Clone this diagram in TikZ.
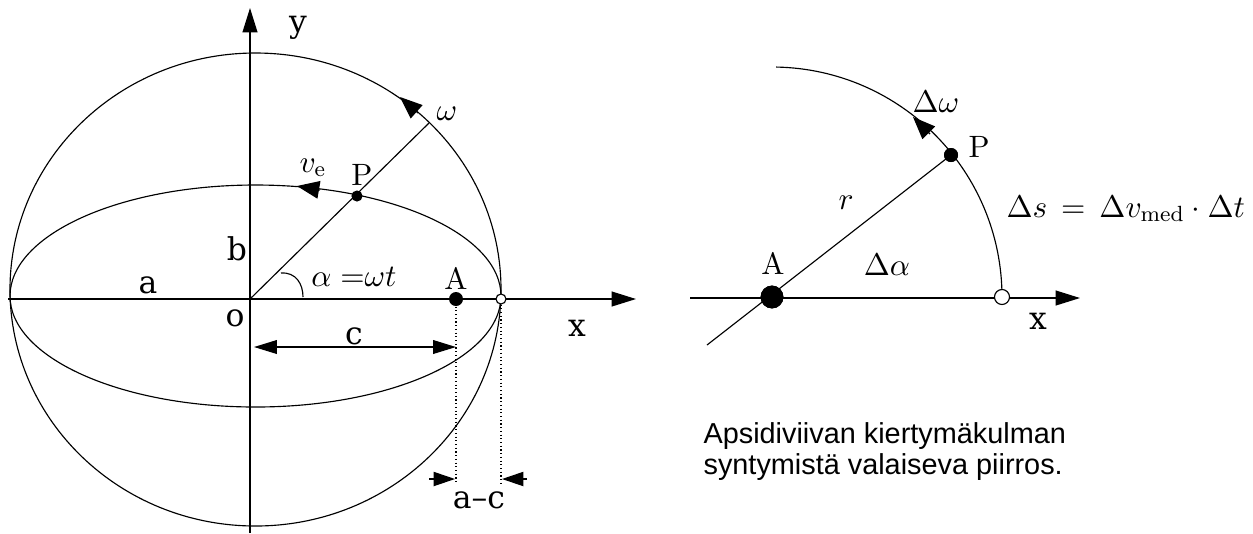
\documentclass[tikz,border=0pt]{standalone}
\usepackage{fontspec}
\newfontfamily\labfont{DejaVu Serif}
\newfontfamily\capfont{Liberation Sans}
\usetikzlibrary{arrows.meta}
\begin{document}
\begin{tikzpicture}[x=0.35pt,y=-0.35pt,
  thinline/.style={line width=0.4pt},
  axis/.style={line width=0.45pt,-{Triangle[length=8.5pt,width=5.2pt]}},
  headonly/.style={line width=0.4pt,-{Triangle[length=7.8pt,width=6.2pt]}},
  smallhead/.style={line width=0.4pt,-{Triangle[length=7.5pt,width=5pt]}},
  dimarrow/.style={line width=0.45pt,{Triangle[length=8pt,width=4.8pt]}-{Triangle[length=8pt,width=4.8pt]}},
  dotline/.style={line width=0.4pt,dash pattern=on 0.4pt off 0.9pt},
  lab/.style={font=\labfont\fontsize{11}{13}\selectfont,inner sep=0pt},
  mth/.style={font=\fontsize{11}{13}\selectfont,inner sep=0pt},
  capl/.style={font=\fontsize{10.8}{12}\selectfont,inner sep=0pt},
  captxt/.style={font=\capfont\fontsize{10.1}{9.8}\selectfont,inner sep=0pt,anchor=base west},
  dot/.style={circle,fill=black,inner sep=0pt},
  odot/.style={circle,draw=black,fill=white,line width=0.4pt,inner sep=0pt},
]
\useasboundingbox (0,0) rectangle (1253,533);
\fill[white] (0,0) rectangle (1253,533);

% ---------- left figure ----------
\coordinate (O) at (250,299);
\coordinate (yb) at (250,533);
\coordinate (yt) at (250,8);
\coordinate (xl) at (8,299);
\coordinate (xr) at (636,299);
\draw[axis] (yb) -- (yt);
\draw[axis] (xl) -- (xr);

\draw[thinline] (255.5,289.5) ellipse [x radius=85.925pt, y radius=82.775pt];
\draw[thinline] (255.5,296) ellipse [x radius=85.925pt, y radius=38.85pt];

\coordinate (W) at (429,123);
\draw[thinline] (O) -- (W);

\draw[thinline] (281,273) .. controls (296,272) and (303,284) .. (303,297);

\node[dot,minimum size=3.9pt] (P) at (357,196) {};
\node[dot,minimum size=4.9pt] (A) at (456,299) {};
\node[odot,minimum size=3.5pt] (Q) at (501,299) {};

% arrows on circle and orbit
\coordinate (wb) at (418,113);
\coordinate (wt) at (400,97);
\draw[headonly] (wb) -- (wt);
\coordinate (vb) at (320,190);
\coordinate (vt) at (297,186);
\draw[headonly] (vb) -- (vt);

% dimension c
\coordinate (c1) at (254,347);
\coordinate (c2) at (456,347);
\draw[dimarrow] (c1) -- (c2);

% dotted lines
\coordinate (Ad) at (456,483);
\coordinate (Qd) at (501,483);
\draw[dotline] (A.south) -- (Ad);
\draw[dotline] (Q.south) -- (Qd);
\coordinate (ac1) at (429,479);
\coordinate (ac2) at (455,479);
\coordinate (ac3) at (527,479);
\coordinate (ac4) at (502,479);
\draw[smallhead] (ac1) -- (ac2);
\draw[smallhead] (ac3) -- (ac4);

% labels
\node[lab] (ly) at (298,28) {y};
\node[mth] (lw) at (447,114) {$\omega$};
\node[mth] (lv) at (313,168) {$v_{\mathrm{e}}$};
\node[capl] (lP) at (362,175) {P};
\node[lab] (lb) at (237,249) {b};
\node[lab] (la) at (148,285) {a};
\node[mth] (lal) at (354,277) {$\alpha\;{=}\omega t$};
\node[capl] (lA) at (456,278) {A};
\node[lab] (lo) at (235,318) {o};
\node[lab] (lx) at (577,328) {x};
\node[lab] (lc) at (354,336) {c};
\node[lab] (lac) at (479,500) {a\textendash c};

% ---------- right figure ----------
\coordinate (xl2) at (690,298);
\coordinate (xr2) at (1080,298);
\draw[axis] (xl2) -- (xr2);

\coordinate (R0) at (707,345);
\node[dot,minimum size=8pt] (A2) at (772,297) {};
\node[dot,minimum size=4.9pt] (P2) at (951,155) {};
\draw[thinline] (R0) -- (P2.center);
\node[dot,minimum size=8pt] at (A2) {};

\draw[thinline] (1002,297) arc [start angle=0, end angle=89, radius=80.5pt];
\node[odot,minimum size=5.25pt] (Q2) at (1002,297) {};
\node[dot,minimum size=4.9pt] at (P2) {};

\coordinate (db) at (930,134);
\coordinate (dt) at (913,117);
\draw[headonly] (db) -- (dt);

\node[mth] (ldw) at (936,102) {$\Delta\omega$};
\node[capl] (lP2) at (979,147) {P};
\node[mth] (lr) at (846,203) {$r$};
\node[capl] (lA2) at (773,263) {A};
\node[mth] (lda) at (887,265) {$\Delta\alpha$};
\node[lab] (lx2) at (1038,321) {x};
\node[mth,anchor=base west] (lds) at (1006,217) {$\Delta s\,=\,\Delta v_{\mathrm{med}}\cdot\Delta t$};

\node[captxt] (cap1) at (703,443) {Apsidiviivan kiertymäkulman};
\node[captxt] (cap2) at (703,474) {syntymistä valaiseva piirros.};
\end{tikzpicture}
\end{document}
